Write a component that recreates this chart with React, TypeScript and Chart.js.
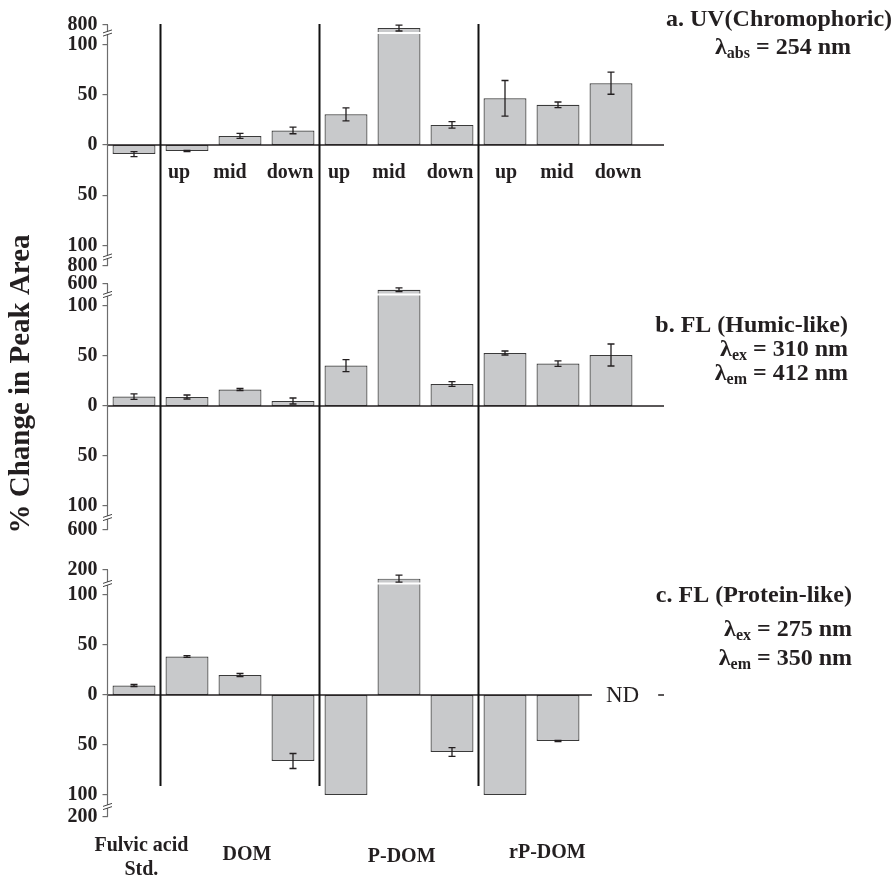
import React, { useEffect, useRef } from 'react';
import { Chart, registerables } from 'chart.js';

Chart.register(...registerables);

// ---------- data ----------
const categories = [
  'Fulvic acid Std.',
  'DOM up', 'DOM mid', 'DOM down',
  'P-DOM up', 'P-DOM mid', 'P-DOM down',
  'rP-DOM up', 'rP-DOM mid', 'rP-DOM down',
];
const siteLabels = ['', 'up', 'mid', 'down', 'up', 'mid', 'down', 'up', 'mid', 'down'];
const groupNames = [['Fulvic acid', 'Std.'], ['DOM'], ['P-DOM'], ['rP-DOM']];

// a. UV (chromophoric), % change in peak area
const uvValues = [-9, -6, 9, 14.5, 30.5, 762, 20, 46.5, 40, 61.5];
const uvErrors = [2.5, 0.6, 2.5, 3.3, 6.5, 37, 3.3, 17.7, 2.8, 11];
// b. FL humic-like
const humicValues = [9.4, 9, 16.5, 5, 40.4, 545, 22, 53, 42.4, 51];
const humicErrors = [2.8, 2, 1, 3, 6, 18, 2.3, 2, 2.8, 11];
// c. FL protein-like (null = ND)
const proteinValues: (number | null)[] = [9.5, 38.5, 20, -66, -100, 168, -57, -100, -46, null];
const proteinErrors = [1, 0.8, 1.5, 7.5, 0, 13, 4.3, 0, 0.6, 0];

// tick values / labels for each panel
const uvTickValues = [800, 100, 50, 0, -50, -100, -800];
const uvTickLabels = ['800', '100', '50', '0', '50', '100', '800'];
const humicTickValues = [600, 100, 50, 0, -50, -100, -600];
const humicTickLabels = ['600', '100', '50', '0', '50', '100', '600'];
const proteinTickValues = [200, 100, 50, 0, -50, -100, -200];
const proteinTickLabels = ['200', '100', '50', '0', '50', '100', '200'];

// ---------- layout (broken-axis geometry per panel) ----------
type Panel = {
  values: (number | null)[];
  errors: number[];
  tickValues: number[];
  tickLabels: string[];
  zero: number; unit: number; topExt: number; botExt: number; brk: number;
  segLow: number; segTop: number;
  title: { parts: [string, boolean][]; y: number; x: number; align: 'center' | 'right' }[];
};

const panels: Panel[] = [
  {
    values: uvValues, errors: uvErrors, tickValues: uvTickValues, tickLabels: uvTickLabels,
    zero: 145, unit: 1.005, topExt: 120, botExt: 121, brk: 112, segLow: 700, segTop: 800,
    title: [
      { parts: [['a. UV(Chromophoric)', false]], y: 20, x: 779, align: 'center' },
      { parts: [['λ', false], ['abs', true], [' = 254 nm', false]], y: 48, x: 783, align: 'center' },
    ],
  },
  {
    values: humicValues, errors: humicErrors, tickValues: humicTickValues, tickLabels: humicTickLabels,
    zero: 406, unit: 1.0, topExt: 122, botExt: 124, brk: 111.5, segLow: 500, segTop: 600,
    title: [
      { parts: [['b. FL (Humic-like)', false]], y: 326, x: 848, align: 'right' },
      { parts: [['λ', false], ['ex', true], [' = 310 nm', false]], y: 350, x: 848, align: 'right' },
      { parts: [['λ', false], ['em', true], [' = 412 nm', false]], y: 374, x: 848, align: 'right' },
    ],
  },
  {
    values: proteinValues, errors: proteinErrors, tickValues: proteinTickValues, tickLabels: proteinTickLabels,
    zero: 695, unit: 1.0, topExt: 125, botExt: 122, brk: 111.5, segLow: 150, segTop: 200,
    title: [
      { parts: [['c. FL (Protein-like)', false]], y: 596, x: 852, align: 'right' },
      { parts: [['λ', false], ['ex', true], [' = 275 nm', false]], y: 630, x: 852, align: 'right' },
      { parts: [['λ', false], ['em', true], [' = 350 nm', false]], y: 659, x: 852, align: 'right' },
    ],
  },
];

// broken-axis transform: data value -> y-scale value
function toScale(p: Panel, v: number): number {
  if (v >= -100 && v <= 100) return p.zero - v * p.unit;
  const sign = v > 0 ? 1 : -1;
  const ext = v > 0 ? p.topExt : p.botExt;
  const frac = (Math.abs(v) - p.segLow) / (p.segTop - p.segLow);
  return p.zero - sign * (p.brk + frac * (ext - p.brk));
}

const allTicks = panels
  .flatMap((p) => p.tickValues.map((v, i) => ({ value: toScale(p, v), label: p.tickLabels[i] })))
  .sort((a, b) => a.value - b.value);

const SERIF = '"Liberation Serif", "Times New Roman", serif';
const INK = '#231f20';
const siteLabelShift = [0, -8, -10, -3, -7, -10, -2, 1, -1, 7];
const groupAnchor = [0.14, 2.13, 5.05, 7.8];
const groupLabelY = [846, 855, 857, 853];

function drawParts(ctx: CanvasRenderingContext2D, parts: [string, boolean][], x: number, y: number, align: 'center' | 'right') {
  const main = `bold 24px ${SERIF}`;
  const sub = `bold 16px ${SERIF}`;
  let total = 0;
  const widths = parts.map(([t, s]) => {
    ctx.font = s ? sub : main;
    const w = ctx.measureText(t).width;
    total += w;
    return w;
  });
  let cx = align === 'center' ? x - total / 2 : x - total;
  ctx.textAlign = 'left';
  ctx.textBaseline = 'middle';
  parts.forEach(([t, s], i) => {
    ctx.font = s ? sub : main;
    ctx.fillText(t, cx, s ? y + 6 : y);
    cx += widths[i];
  });
}

const decorPlugin = {
  id: 'decor',
  afterDatasetsDraw(chart: any) {
    const ctx: CanvasRenderingContext2D = chart.ctx;
    const xs = chart.scales.x;
    const ys = chart.scales.y;
    const area = chart.chartArea;
    const px = (i: number) => xs.getPixelForValue(i);
    const py = (v: number) => ys.getPixelForValue(v);
    const pitch = px(1) - px(0);
    ctx.save();

    panels.forEach((p, k) => {
      const meta = chart.getDatasetMeta(k);
      // zero line
      const zy = py(p.zero);
      ctx.strokeStyle = INK;
      ctx.lineWidth = 1.3;
      ctx.beginPath();
      ctx.moveTo(area.left, zy);
      ctx.lineTo(px(categories.length), zy);
      ctx.stroke();

      // white break line through bars above the break
      p.values.forEach((v, i) => {
        if (v == null || v <= 100) return;
        const bar = meta.data[i];
        const { x, width } = bar.getProps(['x', 'width'], true);
        const by = py(p.zero - p.brk);
        ctx.strokeStyle = '#ffffff';
        ctx.lineWidth = 2.2;
        ctx.beginPath();
        ctx.moveTo(x - width / 2 - 1, by);
        ctx.lineTo(x + width / 2 + 1, by);
        ctx.stroke();
      });

      // error bars
      ctx.strokeStyle = INK;
      ctx.lineWidth = 1.3;
      p.values.forEach((v, i) => {
        const e = p.errors[i];
        if (v == null || !e) return;
        const x = px(i);
        const y1 = py(toScale(p, v - e));
        const y2 = py(toScale(p, v + e));
        ctx.beginPath();
        ctx.moveTo(x, y1); ctx.lineTo(x, y2);
        ctx.moveTo(x - 3.5, y1); ctx.lineTo(x + 3.5, y1);
        ctx.moveTo(x - 3.5, y2); ctx.lineTo(x + 3.5, y2);
        ctx.stroke();
      });

      // ND marker for missing values
      p.values.forEach((v, i) => {
        if (v != null) return;
        const x = px(i);
        ctx.fillStyle = '#ffffff';
        ctx.fillRect(x - pitch * 0.36, zy - 2, pitch * 1.25, 4);
        ctx.fillStyle = INK;
        ctx.font = `23px ${SERIF}`;
        ctx.textAlign = 'left';
        ctx.textBaseline = 'middle';
        ctx.fillText('ND', x - 5, zy + 1);
      });

      // y-axis segment with break marks
      const ax = area.left;
      const top = py(toScale(p, p.tickValues[0]));
      const bot = py(toScale(p, p.tickValues[p.tickValues.length - 1]));
      ctx.strokeStyle = '#6d6d6d';
      ctx.lineWidth = 1.2;
      ctx.beginPath();
      ctx.moveTo(ax, top);
      ctx.lineTo(ax, bot);
      ctx.stroke();
      [p.zero - p.brk, p.zero + p.brk].forEach((bv) => {
        const by = py(bv);
        ctx.fillStyle = '#ffffff';
        ctx.fillRect(ax - 2, by - 1.5, 4, 3);
        ctx.strokeStyle = '#444';
        ctx.lineWidth = 1;
        ctx.beginPath();
        [-1.6, 1.6].forEach((d) => {
          ctx.moveTo(ax - 4.5, by + d + 1.5);
          ctx.lineTo(ax + 4.5, by + d - 1.5);
        });
        ctx.stroke();
      });

      // panel annotation
      ctx.fillStyle = INK;
      p.title.forEach((ln) => drawParts(ctx, ln.parts, ln.x, ln.y, ln.align));
    });

    // group separators
    ctx.strokeStyle = '#111';
    ctx.lineWidth = 2;
    [1, 4, 7].forEach((i) => {
      const x = (px(i - 1) + px(i)) / 2;
      ctx.beginPath();
      ctx.moveTo(x, 24);
      ctx.lineTo(x, 786);
      ctx.stroke();
    });

    // site labels under panel a
    ctx.fillStyle = INK;
    ctx.font = `bold 20px ${SERIF}`;
    ctx.textAlign = 'center';
    ctx.textBaseline = 'middle';
    const ly = py(panels[0].zero) + 28;
    siteLabels.forEach((t, i) => { if (t) ctx.fillText(t, px(i) + siteLabelShift[i], ly); });

    // group labels
    ctx.font = `bold 20px ${SERIF}`;
    groupNames.forEach((lines, g) => {
      const gx = xs.getPixelForValue(groupAnchor[g]);
      lines.forEach((t, j) => ctx.fillText(t, gx, groupLabelY[g] + j * 24));
    });

    // y-axis title
    ctx.save();
    ctx.translate(22, 384);
    ctx.rotate(-Math.PI / 2);
    ctx.font = `bold 29px ${SERIF}`;
    ctx.textAlign = 'center';
    ctx.textBaseline = 'middle';
    ctx.fillText('% Change in Peak Area', 0, 0);
    ctx.restore();

    ctx.restore();
  },
};

export default function App() {
  const ref = useRef<HTMLCanvasElement>(null);
  useEffect(() => {
    document.body.style.margin = '0';
    const canvas = ref.current!;
    const chart = new Chart(canvas, {
      type: 'bar',
      data: {
        labels: [...categories, ''],
        datasets: panels.map((p) => ({
          data: p.values.map((v) => (v == null ? null : [toScale(p, 0), toScale(p, v)])) as any,
          backgroundColor: '#c8c9cb',
          borderColor: '#3a3a3a',
          borderWidth: 1.2,
          borderSkipped: false,
          grouped: false,
          barPercentage: 0.81,
          categoryPercentage: 1,
        })),
      },
      options: {
        responsive: false,
        animation: false,
        devicePixelRatio: 1,
        layout: { padding: { left: 0, top: 0, bottom: 0, right: 205.5 } },
        plugins: { legend: { display: false }, tooltip: { enabled: false }, title: { display: false } },
        scales: {
          x: { type: 'category', display: false, offset: true },
          y: {
            type: 'linear',
            reverse: true,
            min: 0,
            max: 877,
            afterBuildTicks: (scale: any) => {
              scale.ticks = allTicks.map((t) => ({ value: t.value }));
            },
            afterFit: (scale: any) => {
              scale.width = 107.5;
              scale.paddingTop = 0;
              scale.paddingBottom = 0;
            },
            border: { display: false },
            grid: { drawOnChartArea: false, drawTicks: true, tickLength: 5, color: '#6d6d6d', lineWidth: 1.2 },
            ticks: {
              autoSkip: false,
              padding: 5,
              color: INK,
              font: { family: SERIF, weight: 'bold', size: 20 },
              callback: (_v: any, i: number) => allTicks[i].label,
            },
          },
        },
      },
      plugins: [decorPlugin],
    });
    return () => chart.destroy();
  }, []);
  return <canvas ref={ref} width={896} height={877} style={{ display: 'block' }} />;
}
